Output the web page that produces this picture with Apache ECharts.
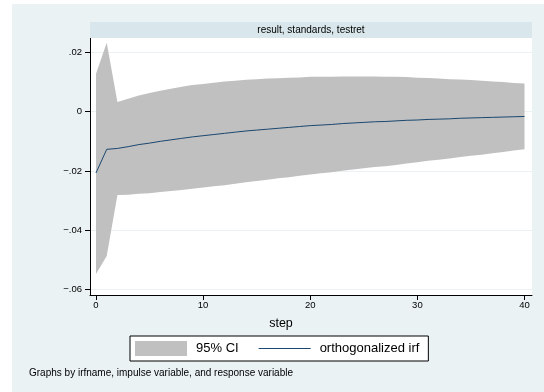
<!DOCTYPE html>
<html>
<head>
<meta charset="utf-8">
<script src="https://cdn.jsdelivr.net/npm/echarts@6/dist/echarts.min.js"></script>
<style>
  html, body { margin: 0; padding: 0; background: #ffffff; }
  #wrap { position: relative; width: 544px; height: 392px; overflow: hidden; }
  #bg { position: absolute; left: 12px; top: 4px; right: 0; bottom: 0; background: #eaf2f3; }
  #chart { position: absolute; left: 0; top: 0; width: 544px; height: 392px; }
</style>
</head>
<body>
<div id="wrap"><div id="bg"></div><div id="chart"></div></div>
<script>
// Impulse response: step horizon, orthogonalized IRF and its 95% confidence band
const steps = [0,1,2,3,4,5,6,7,8,9,10,11,12,13,14,15,16,17,18,19,20,
  21,22,23,24,25,26,27,28,29,30,31,32,33,34,35,36,37,38,39,40];

const irf = [-0.0207,-0.0127,-0.0124,-0.0118,-0.0111,-0.0106,-0.0100,-0.0095,-0.0090,-0.0085,
  -0.0081,-0.0077,-0.0073,-0.0069,-0.0065,-0.0062,-0.0059,-0.0056,-0.0053,-0.0050,
  -0.0047,-0.0045,-0.0043,-0.0040,-0.0038,-0.0036,-0.0034,-0.0033,-0.0031,-0.0029,
  -0.0028,-0.0026,-0.0025,-0.0024,-0.0022,-0.0021,-0.0020,-0.0019,-0.0018,-0.0017,-0.0016];

const ciLower = [-0.0548,-0.0487,-0.0281,-0.0280,-0.0277,-0.0275,-0.0271,-0.0268,-0.0264,-0.0260,
  -0.0256,-0.0252,-0.0248,-0.0243,-0.0238,-0.0234,-0.0230,-0.0225,-0.0221,-0.0216,
  -0.0212,-0.0208,-0.0204,-0.0199,-0.0195,-0.0191,-0.0187,-0.0184,-0.0180,-0.0175,
  -0.0171,-0.0166,-0.0162,-0.0158,-0.0153,-0.0149,-0.0145,-0.0140,-0.0136,-0.0131,-0.0127];

const ciUpper = [0.0128,0.0233,0.0033,0.0044,0.0055,0.0063,0.0071,0.0078,0.0084,0.0090,
  0.0094,0.0098,0.0102,0.0105,0.0108,0.0110,0.0112,0.0113,0.0115,0.0116,
  0.0118,0.0118,0.0118,0.0119,0.0119,0.0119,0.0119,0.0118,0.0118,0.0117,
  0.0115,0.0114,0.0112,0.0110,0.0109,0.0107,0.0105,0.0102,0.0100,0.0097,0.0095];

const xTicks = [0, 10, 20, 30, 40];
const yTicks = [-0.06, -0.04, -0.02, 0, 0.02];

const panelTitle = 'result, standards, testret';
const xTitle = 'step';
const note = 'Graphs by irfname, impulse variable, and response variable';

const FONT = '"Liberation Sans", Arial, Helvetica, sans-serif';
const CI_COLOR = '#c0c0c0';
const IRF_COLOR = '#1a476f';

function yFmt(v) {
  if (Math.abs(v) < 1e-12) return '0';
  const s = Math.abs(v).toFixed(2).replace(/^0/, '');
  return (v < 0 ? '\u2212' : '') + s;
}

// one row per step: [step, lower, upper]
const bandRows = steps.map((s, i) => [s, ciLower[i], ciUpper[i]]);
const irfData = steps.map((s, i) => [s, irf[i]]);

const chart = echarts.init(document.getElementById('chart'), null, { renderer: 'canvas' });

chart.setOption({
  backgroundColor: 'transparent',
  animation: false,
  textStyle: { fontFamily: FONT },
  grid: {
    left: 90, top: 38, width: 442, height: 257,
    show: true, backgroundColor: '#ffffff', borderWidth: 0
  },
  xAxis: {
    type: 'value',
    min: -0.56, max: 40.70,
    axisLine: { onZero: false, lineStyle: { color: '#000000', width: 1 } },
    axisTick: { show: true, length: 5, customValues: xTicks, lineStyle: { color: '#000000' } },
    axisLabel: { customValues: xTicks, margin: 5, fontSize: 9.5, color: '#000000', fontFamily: FONT },
    splitLine: { show: false }
  },
  yAxis: {
    type: 'value',
    min: -0.0619, max: 0.0249,
    axisLine: { show: true, onZero: false, lineStyle: { color: '#000000', width: 1 } },
    axisTick: { show: true, length: 5, customValues: yTicks, lineStyle: { color: '#000000' } },
    axisLabel: { customValues: yTicks, margin: 8, fontSize: 9.5, color: '#000000', fontFamily: FONT, formatter: yFmt },
    splitLine: { show: true, lineStyle: { color: '#eaf2f3', width: 1 } }
  },
  legend: {
    left: 130, top: 336,
    orient: 'horizontal',
    backgroundColor: '#ffffff',
    borderColor: '#000000', borderWidth: 1,
    padding: [5, 9, 5, 5],
    itemWidth: 52, itemHeight: 15, itemGap: 20,
    selectedMode: false,
    textStyle: { fontSize: 13, color: '#000000', fontFamily: FONT, padding: [0, 0, 0, 4] },
    data: [
      { name: '95% CI', icon: 'rect', itemStyle: { color: CI_COLOR, borderWidth: 0 } },
      { name: 'orthogonalized irf', icon: 'path://M0,0H52V1H0Z', itemStyle: { color: IRF_COLOR, borderWidth: 0 } }
    ]
  },
  graphic: [
    {
      type: 'rect', left: 90, top: 22, z: 10,
      shape: { width: 442, height: 16 },
      style: { fill: '#d9e6eb' }
    },
    {
      type: 'text', x: 311, y: 30, z: 11,
      style: { text: panelTitle, fill: '#000000', font: '10px ' + FONT, textAlign: 'center', textVerticalAlign: 'middle' }
    },
    {
      type: 'text', x: 281, y: 324, z: 11,
      style: { text: xTitle, fill: '#000000', font: '12.5px ' + FONT, textAlign: 'center', textVerticalAlign: 'middle' }
    },
    {
      type: 'text', x: 29, y: 373, z: 11,
      style: { text: note, fill: '#000000', font: '10px ' + FONT, textAlign: 'left', textVerticalAlign: 'middle' }
    }
  ],
  series: [
    {
      // confidence band: upper bound left to right, then lower bound back
      name: '95% CI', type: 'custom',
      data: bandRows,
      encode: { x: 0, y: [1, 2] },
      silent: true, z: 2,
      itemStyle: { color: CI_COLOR },
      renderItem: function (params, api) {
        if (params.dataIndex !== 0) return null;
        const pts = [];
        for (let i = 0; i < bandRows.length; i++) pts.push(api.coord([bandRows[i][0], bandRows[i][2]]));
        for (let i = bandRows.length - 1; i >= 0; i--) pts.push(api.coord([bandRows[i][0], bandRows[i][1]]));
        return { type: 'polygon', shape: { points: pts }, style: { fill: CI_COLOR } };
      }
    },
    {
      name: 'orthogonalized irf', type: 'line', data: irfData,
      symbol: 'none', z: 3,
      color: IRF_COLOR,
      lineStyle: { color: IRF_COLOR, width: 1 }
    }
  ]
});
</script>
</body>
</html>
